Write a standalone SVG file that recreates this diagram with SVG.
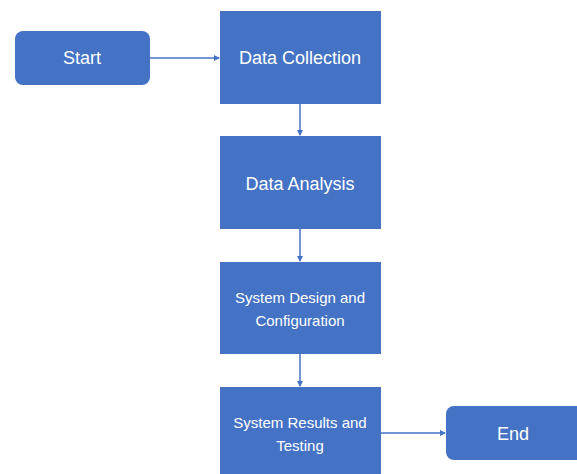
<svg xmlns="http://www.w3.org/2000/svg" width="577" height="474" viewBox="0 0 577 474">
<defs>
<marker id="ah" markerWidth="6" markerHeight="6" refX="5" refY="3" orient="auto" markerUnits="userSpaceOnUse">
<path d="M0,0 L6,3 L0,6 Z" fill="#4472C4"/>
</marker>
<style>
.box{fill:#4472C4;}
.t{font-family:"Liberation Sans",Arial,sans-serif;fill:#FFFFFF;text-anchor:middle;}
.big{font-size:18px;}
.sm{font-size:15px;}
.c{stroke:#4472C4;stroke-width:1.5;fill:none;marker-end:url(#ah);}
</style>
</defs>
<rect width="577" height="474" fill="#FFFFFF"/>
<g id="connectors">
<line class="c" x1="150" y1="58" x2="219" y2="58"/>
<line class="c" x1="300" y1="104" x2="300" y2="135"/>
<line class="c" x1="300" y1="229" x2="300" y2="261"/>
<line class="c" x1="300" y1="354" x2="300" y2="386"/>
<line class="c" x1="381" y1="433" x2="445" y2="433"/>
</g>
<g id="start">
<rect class="box" x="15" y="31" width="135" height="54" rx="8"/>
<text class="t big" x="82" y="64">Start</text>
</g>
<g id="data-collection">
<rect class="box" x="220" y="11" width="161" height="93"/>
<text class="t big" x="300" y="64">Data Collection</text>
</g>
<g id="data-analysis">
<rect class="box" x="220" y="136" width="161" height="93"/>
<text class="t big" x="300" y="190">Data Analysis</text>
</g>
<g id="system-design">
<rect class="box" x="220" y="262" width="161" height="92"/>
<text class="t sm" x="300" y="303">System Design and</text>
<text class="t sm" x="300" y="326">Configuration</text>
</g>
<g id="system-results">
<rect class="box" x="220" y="387" width="161" height="87"/>
<text class="t sm" x="300" y="428">System Results and</text>
<text class="t sm" x="300" y="451">Testing</text>
</g>
<g id="end">
<rect class="box" x="446" y="406" width="140" height="54" rx="8"/>
<text class="t big" x="513" y="440">End</text>
</g>
</svg>
